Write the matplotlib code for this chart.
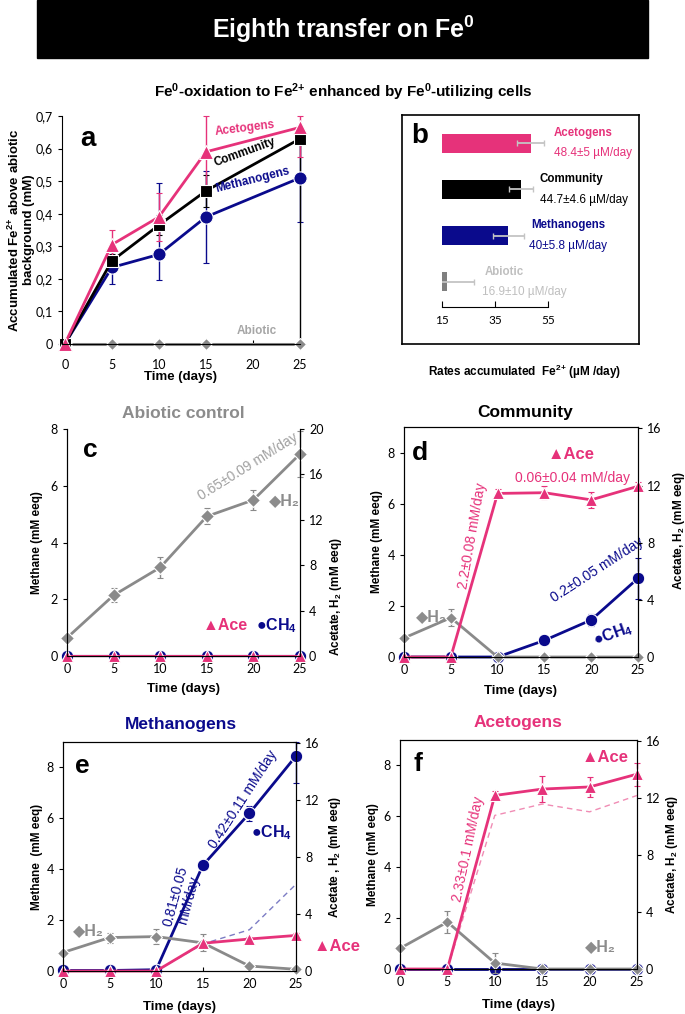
import matplotlib
matplotlib.use('Agg')
import matplotlib.pyplot as plt
from matplotlib.patches import Rectangle

plt.rcParams['font.family'] = ['Liberation Sans', 'DejaVu Sans']
plt.rcParams['mathtext.fontset'] = 'custom'
plt.rcParams['mathtext.rm'] = 'Liberation Sans'
plt.rcParams['mathtext.bf'] = 'Liberation Sans:bold'
plt.rcParams['mathtext.it'] = 'Liberation Sans:italic'

PINK = '#E6327A'
NAVY = '#0A0A8C'
GRAY = '#8A8A8A'
LIGHT = '#C4C4C4'
TICKFONT = 'Lato'

# ---------------- data ----------------
# panel a: accumulated Fe2+ (mM)
days_a = [0, 5, 10, 15, 25]
a_ace = [0, 0.305, 0.39, 0.59, 0.665]
a_ace_err_lo = [0, 0.045, 0.075, 0.11, 0.09]
a_ace_err_hi = [0, 0.045, 0.075, 0.11, 0.035]
a_comm = [0, 0.255, 0.365, 0.47, 0.63]
a_comm_err_lo = [0, 0.02, 0.03, 0.05, 0.63]
a_comm_err_hi = [0, 0.02, 0.03, 0.05, 0.0]
a_meth = [0, 0.235, 0.275, 0.39, 0.51]
a_meth_err_lo = [0, 0.05, 0.08, 0.14, 0.135]
a_meth_err_hi = [0, 0.05, 0.22, 0.14, 0.11]
a_abiotic = [0, 0, 0, 0, 0]

# panel b: rates (uM/day)
b_groups = ['Acetogens', 'Community', 'Methanogens', 'Abiotic']
b_rates = [48.4, 44.7, 40, 16.9]
b_err = [5, 4.6, 5.8, 10]
b_labels = ['48.4±5 µM/day', '44.7±4.6 µM/day', '40±5.8 µM/day', '16.9±10 µM/day']

# panels c-f: time series
days = [0, 5, 10, 15, 20, 25]
zeros = [0, 0, 0, 0, 0, 0]

c_h2 = [1.6, 5.35, 7.8, 12.3, 13.75, 17.8]
c_h2_err = [0, 0.6, 0.9, 0.7, 0.9, 2.0]

d_ace = [0, 0, 11.45, 11.5, 11.0, 11.95]
d_ace_err = [0, 0, 0.3, 0.45, 0.55, 0.3]
d_ch4 = [0, 0, 0, 0.65, 1.45, 3.08]
d_ch4_err = [0, 0, 0, 0.12, 0.25, 0.8]
d_h2 = [1.33, 2.75, 0, 0, 0, 0]
d_h2_err = [0, 0.6, 0, 0, 0, 0]

e_ch4 = [0.02, 0.02, 0.05, 4.15, 6.2, 8.45]
e_ch4_err_lo = [0, 0, 0, 0.05, 0.3, 1.05]
e_ch4_err_hi = [0, 0, 0, 0.05, 0.3, 0.55]
e_ace = [0, 0, 0, 1.95, 2.25, 2.5]
e_ace_err = [0, 0, 0, 0.15, 0.15, 0.15]
e_h2 = [1.3, 2.35, 2.42, 1.98, 0.35, 0.12]
e_h2_err = [0, 0.35, 0.55, 0.6, 0.2, 0.05]
e_dash = [0, 0, 0, 1.9, 2.9, 6.1]

f_ace = [0, 0, 12.2, 12.65, 12.8, 13.7]
f_ace_err = [0, 0, 0.3, 0.9, 0.7, 0.8]
f_dash = [0, 0, 10.8, 11.6, 11.05, 12.2]
f_h2 = [1.45, 3.3, 0.42, 0, 0, 0]
f_h2_err = [0, 0.8, 0.7, 0, 0, 0]

# ---------------- figure ----------------
W, H = 685, 1014
fig = plt.figure(figsize=(W / 100, H / 100), dpi=100)


def rect(left, top, right, bottom):
    return [left / W, 1 - bottom / H, (right - left) / W, (bottom - top) / H]


def ftext(x, y, s, **kw):
    fig.text(x / W, 1 - y / H, s, ha='center', va='center', **kw)


def tickfont(ax):
    for lab in ax.get_xticklabels() + ax.get_yticklabels():
        lab.set_family(TICKFONT)


FE2 = r'Fe$^{\mathbf{2{+}}}$'

# header
fig.patches.append(Rectangle((37 / W, 1 - 58 / H), (648 - 37) / W, 58 / H,
                             transform=fig.transFigure, color='black'))
ftext(343, 29, r'Eighth transfer on Fe$^{\mathbf{0}}$', color='white', fontsize=18, fontweight='bold')
ftext(343, 92, r'Fe$^{\mathbf{0}}$-oxidation to ' + FE2 + r' enhanced by Fe$^{\mathbf{0}}$-utilizing cells',
      fontsize=11, fontweight='bold')

ekw = dict(capsize=2.5, elinewidth=1, clip_on=False, mec='white', mew=0.8)

# ---------------- panel a ----------------
ax = fig.add_axes(rect(62, 116, 300, 344))
ax.errorbar(days_a, a_abiotic, yerr=0, color=GRAY, marker='D', ms=6.5, lw=2.2, **ekw)
ax.errorbar(days_a, a_meth, yerr=[a_meth_err_lo, a_meth_err_hi], color=NAVY, marker='o', ms=9.5, lw=2, **ekw)
ax.errorbar(days_a, a_comm, yerr=[a_comm_err_lo, a_comm_err_hi], color='black', marker='s', ms=8.5, lw=2, **ekw)
ax.errorbar(days_a, a_ace, yerr=[a_ace_err_lo, a_ace_err_hi], color=PINK, marker='^', ms=9.5, lw=2, **ekw)
ax.set_xlim(-0.3, 25)
ax.set_ylim(0, 0.7)
ax.set_xticks([0, 5, 10, 15, 20, 25])
ax.set_yticks([0, 0.1, 0.2, 0.3, 0.4, 0.5, 0.6, 0.7])
ax.set_yticklabels(['0', '0,1', '0,2', '0,3', '0,4', '0,5', '0,6', '0,7'])
ax.spines[['top', 'right']].set_visible(False)
ax.tick_params(axis='x', direction='in', length=3, pad=11, labelsize=9)
ax.tick_params(axis='y', direction='out', length=3, labelsize=9)
tickfont(ax)
ax.set_xlabel('Time (days)', fontweight='bold', fontsize=9.5, labelpad=0)
ax.set_ylabel('Accumulated ' + FE2 + ' above abiotic\nbackground (mM)', fontweight='bold', fontsize=9.5,
              linespacing=1.05)
ax.yaxis.set_label_coords(-0.115, 0.5)
ax.text(2.5, 0.63, 'a', fontsize=20, fontweight='bold', va='center', ha='center')
ax.text(19.1, 0.663, 'Acetogens', color=PINK, fontsize=8.5, fontweight='bold', rotation=7, ha='center', va='center')
ax.text(19.1, 0.59, 'Community', color='black', fontsize=8.5, fontweight='bold', rotation=20, ha='center', va='center')
ax.text(20.0, 0.503, 'Methanogens', color=NAVY, fontsize=8.5, fontweight='bold', rotation=14, ha='center', va='center')
ax.text(20.4, 0.04, 'Abiotic', color='#A6A6A6', fontsize=8.5, fontweight='bold', ha='center', va='center')

# ---------------- panel b ----------------
box = fig.add_axes(rect(402, 115, 639, 344))
box.set_xticks([])
box.set_yticks([])
for s in box.spines.values():
    s.set_linewidth(1.2)

axb = fig.add_axes(rect(442, 115, 639, 307))
axb.patch.set_visible(False)
rows = list(range(len(b_groups)))
b_colors = [PINK, 'black', NAVY, '#7F7F7F']
b_text_colors = [PINK, 'black', NAVY, '#BFBFBF']
axb.barh(rows, [v - 15 for v in b_rates], left=15, height=0.41, color=b_colors)
axb.errorbar(b_rates, rows, xerr=b_err, fmt='none', ecolor=LIGHT, capsize=2.5, elinewidth=1.3)
axb.set_xlim(15, 89.3)
axb.set_ylim(3.54, -0.605)
axb.spines[['top', 'right', 'left']].set_visible(False)
axb.spines['bottom'].set_bounds(15, 55)
axb.set_yticks([])
axb.set_xticks([15, 35, 55])
axb.tick_params(axis='x', direction='in', length=4, pad=6, labelsize=8.5)
tickfont(axb)
name_x = [57.3, 51.6, 48.6, 31.2]
val_x = [57.3, 52.0, 47.8, 30.1]
for i, g in enumerate(b_groups):
    axb.text(name_x[i], i - 0.22, g, color=b_text_colors[i], fontsize=8.3, fontweight='bold', va='center')
    axb.text(val_x[i], i + 0.22, b_labels[i], color=b_text_colors[i], fontsize=8.5, va='center')
axb.text(6.7, -0.15, 'b', fontsize=20, fontweight='bold', ha='center', va='center', clip_on=False)
ftext(525, 372, 'Rates accumulated  ' + FE2 + ' (µM /day)', fontsize=8.5, fontweight='bold')


# ---------------- panels c-f ----------------
def series_panel(px, title, title_color, title_xy, left_max, right_max, right_ticks,
                 top_spine, left_lab, right_lab, left_lab_x, right_lab_x, right_lab_y, xlab_y):
    ax = fig.add_axes(rect(*px))
    ax2 = ax.twinx()
    ax.set_xlim(0, 25)
    ax.set_ylim(0, left_max)
    ax2.set_ylim(0, right_max)
    ax.set_xticks([0, 5, 10, 15, 20, 25])
    ax.set_yticks([0, 2, 4, 6, 8])
    ax2.set_yticks(right_ticks)
    ax.spines['top'].set_visible(top_spine)
    ax2.spines['top'].set_visible(top_spine)
    ax.tick_params(axis='x', direction='in', length=3, pad=5, labelsize=9)
    ax.tick_params(axis='y', direction='out', length=3, labelsize=9)
    ax2.tick_params(axis='y', direction='out', length=3, labelsize=9)
    tickfont(ax)
    tickfont(ax2)
    ax.set_ylabel(left_lab, fontweight='bold', fontsize=8.5)
    ax2.set_ylabel(right_lab, fontweight='bold', fontsize=8.5)
    ax.yaxis.set_label_coords(left_lab_x, 0.5)
    ax2.yaxis.set_label_coords(right_lab_x, right_lab_y)
    ax.set_xlabel('Time (days)', fontweight='bold', fontsize=9.5)
    ax.xaxis.set_label_coords(0.5, xlab_y)
    ftext(title_xy[0], title_xy[1], title, color=title_color, fontsize=12.5, fontweight='bold')
    return ax, ax2


skw = dict(capsize=2.5, elinewidth=1, clip_on=False, mec='white', mew=0.8)
H2LAB = '◆H₂'
CH4LAB = '●CH$_\\mathbf{4}$'
RATE = 10
LAB = 11.5

# c: abiotic control
ax, ax2 = series_panel((67, 429, 300, 656), 'Abiotic control', '#8C8C8C', (183, 413), 8, 20,
                       [0, 4, 8, 12, 16, 20], False, 'Methane (mM eeq)', 'Acetate, H$_\\mathbf{2}$ (mM eeq)',
                       -0.103, 1.12, 0.26, -0.12)
ax.errorbar(days, zeros, yerr=0, color=NAVY, marker='o', ms=9, lw=1.5, **skw)
ax2.errorbar(days, c_h2, yerr=c_h2_err, color=GRAY, marker='D', ms=7, lw=2, **skw)
ax2.errorbar(days, zeros, yerr=0, color=PINK, marker='^', ms=9, lw=1.5, **skw)
ax.text(2.5, 7.25, 'c', fontsize=19, fontweight='bold', ha='center', va='center')
ax2.text(19.4, 16.7, '0.65±0.09 mM/day', color='#A0A0A0', fontsize=RATE, rotation=32, ha='center', va='center')
ax2.text(23.3, 13.7, H2LAB, color='#8C8C8C', fontsize=LAB, fontweight='bold', ha='center', va='center')
ax.text(17.0, 1.06, '▲Ace', color=PINK, fontsize=LAB, fontweight='bold', ha='center', va='center')
ax.text(22.5, 1.06, CH4LAB, color=NAVY, fontsize=LAB, fontweight='bold', ha='center', va='center')

# d: community
ax, ax2 = series_panel((404, 427, 638, 657), 'Community', 'black', (525, 413), 9, 16.1,
                       [0, 4, 8, 12, 16], True, 'Methane (mM eeq)', 'Acetate, H$_\\mathbf{2}$ (mM eeq)',
                       -0.09, 1.141, 0.55, -0.12)
ax.errorbar(days, d_ch4, yerr=d_ch4_err, color=NAVY, marker='o', ms=9, lw=2, **skw)
ax2.errorbar(days, d_h2, yerr=d_h2_err, color=GRAY, marker='D', ms=6.5, lw=2, **skw)
ax2.errorbar(days, d_ace, yerr=d_ace_err, color=PINK, marker='^', ms=9, lw=2, **skw)
ax.text(1.7, 8.0, 'd', fontsize=19, fontweight='bold', ha='center', va='center')
ax.text(17.9, 7.92, '▲Ace', color=PINK, fontsize=12, fontweight='bold', ha='center', va='center')
ax.text(18.0, 7.0, '0.06±0.04 mM/day', color=PINK, fontsize=RATE, ha='center', va='center')
ax.text(7.3, 4.75, '2.2±0.08 mM/day', color=PINK, fontsize=RATE, rotation=80, ha='center', va='center')
ax.text(20.6, 3.4, '0.2±0.05 mM/day', color=NAVY, fontsize=RATE, rotation=33, ha='center', va='center')
ax2.text(22.3, 1.6, CH4LAB, color=NAVY, fontsize=LAB, fontweight='bold', rotation=20, ha='center', va='center')
ax.text(2.9, 1.6, H2LAB, color='#8C8C8C', fontsize=LAB, fontweight='bold', ha='center', va='center')

# e: methanogens
ax, ax2 = series_panel((63, 742, 296, 971), 'Methanogens', NAVY, (181, 724), 9, 16.1,
                       [0, 4, 8, 12, 16], True, 'Methane  (mM eeq)', 'Acetate , H$_\\mathbf{2}$ (mM eeq)',
                       -0.086, 1.133, 0.5, -0.13)
ax.errorbar(days, e_ch4, yerr=[e_ch4_err_lo, e_ch4_err_hi], color=NAVY, marker='o', ms=9, lw=2, **skw)
ax2.plot(days, e_dash, color='#7C7CC4', lw=1, ls=(0, (4, 3)), clip_on=False)
ax2.errorbar(days, e_h2, yerr=e_h2_err, color=GRAY, marker='D', ms=6.5, lw=2, **skw)
ax2.errorbar(days, e_ace, yerr=e_ace_err, color=PINK, marker='^', ms=9, lw=2, **skw)
ax.text(2.1, 8.05, 'e', fontsize=19, fontweight='bold', ha='center', va='center')
ax.text(12.8, 2.85, '0.81±0.05\nmM/day', color=NAVY, fontsize=RATE, rotation=75, ha='center', va='center',
        linespacing=1.0)
ax.text(19.3, 6.75, '0.42±0.11 mM/day', color=NAVY, fontsize=RATE, rotation=57, ha='center', va='center')
ax.text(22.4, 5.45, CH4LAB, color=NAVY, fontsize=LAB, fontweight='bold', ha='center', va='center')
ax.text(2.7, 1.6, H2LAB, color='#8C8C8C', fontsize=LAB, fontweight='bold', ha='center', va='center')
ax.text(29.4, 0.98, '▲Ace', color=PINK, fontsize=12, fontweight='bold', ha='center', va='center', clip_on=False)

# f: acetogens
ax, ax2 = series_panel((400, 740, 637, 969), 'Acetogens', PINK, (518, 723), 9, 16.1,
                       [0, 4, 8, 12, 16], True, 'Methane (mM eeq)', 'Acetate, H$_\\mathbf{2}$ (mM eeq)',
                       -0.089, 1.114, 0.5, -0.13)
ax.errorbar(days, zeros, yerr=0, color=NAVY, marker='o', ms=9, lw=2, **skw)
ax2.plot(days, f_dash, color='#F08CB4', lw=1, ls=(0, (4, 3)), clip_on=False)
ax2.errorbar(days, f_h2, yerr=f_h2_err, color=GRAY, marker='D', ms=6.5, lw=2, **skw)
ax2.errorbar(days, f_ace, yerr=f_ace_err, color=PINK, marker='^', ms=9, lw=2, **skw)
ax.text(1.9, 8.07, 'f', fontsize=19, fontweight='bold', ha='center', va='center')
ax.text(21.6, 8.3, '▲Ace', color=PINK, fontsize=12, fontweight='bold', ha='center', va='center')
ax.text(7.2, 4.7, '2.33±0.1 mM/day', color=PINK, fontsize=RATE, rotation=78, ha='center', va='center')
ax.text(21.1, 0.87, H2LAB, color='#8C8C8C', fontsize=LAB, fontweight='bold', ha='center', va='center')

fig.savefig('out.png', dpi=100)
